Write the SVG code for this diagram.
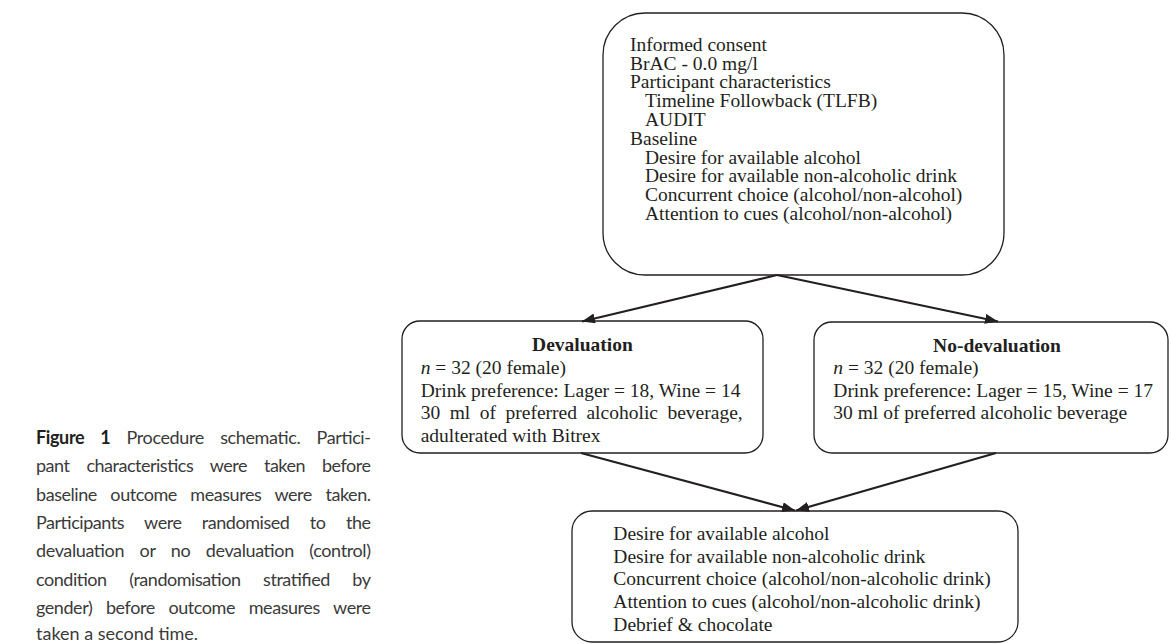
<svg xmlns="http://www.w3.org/2000/svg" width="1171" height="644" viewBox="0 0 1171 644">
<defs>
<style>
.box{fill:#fff;stroke:#231f20;stroke-width:1.3}
.t{font-family:"Liberation Serif","Times New Roman",serif;font-size:19.5px;fill:#231f20}
.b{font-weight:bold}
.c{font-family:Lato,"Open Sans",sans-serif;font-size:18px;fill:#3a3a3a}
.cb{font-weight:bold;fill:#231f20}
.edge{stroke:#231f20;stroke-width:2.2;fill:none;marker-end:url(#arr)}
</style>
<marker id="arr" markerUnits="userSpaceOnUse" markerWidth="14" markerHeight="11" refX="13" refY="5" orient="auto">
<path d="M0,0 L13,5 L0,10 z" fill="#231f20"/>
</marker>
</defs>
<rect width="1171" height="644" fill="#fff"/>

<g id="node-baseline">
<rect class="box" x="603" y="13" width="401" height="262" rx="42" ry="42"/>
<text class="t" x="630" y="50.7">Informed consent</text>
<text class="t" x="630" y="69.5">BrAC - 0.0 mg/l</text>
<text class="t" x="630" y="88.3">Participant characteristics</text>
<text class="t" x="645" y="107.1">Timeline Followback (TLFB)</text>
<text class="t" x="645" y="125.9">AUDIT</text>
<text class="t" x="630" y="144.7">Baseline</text>
<text class="t" x="645" y="163.5">Desire for available alcohol</text>
<text class="t" x="645" y="182.3">Desire for available non-alcoholic drink</text>
<text class="t" x="645" y="201.1">Concurrent choice (alcohol/non-alcohol)</text>
<text class="t" x="645" y="219.9">Attention to cues (alcohol/non-alcohol)</text>
</g>

<g id="node-devaluation">
<rect class="box" x="402" y="321" width="361" height="132" rx="18" ry="18"/>
<text class="t b" x="582.5" y="350.7" text-anchor="middle">Devaluation</text>
<text class="t" x="420.7" y="374"><tspan font-style="italic">n</tspan> = 32 (20 female)</text>
<text class="t" x="420.7" y="396.7">Drink preference: Lager = 18, Wine = 14</text>
<text class="t" x="420.7" y="419.3" textLength="322" lengthAdjust="spacing" word-spacing="4.6">30 ml of preferred alcoholic beverage,</text>
<text class="t" x="420.7" y="442">adulterated with Bitrex</text>
</g>

<g id="node-nodevaluation">
<rect class="box" x="814" y="322" width="354" height="131" rx="18" ry="18"/>
<text class="t b" x="997" y="351.7" text-anchor="middle">No-devaluation</text>
<text class="t" x="833.3" y="374"><tspan font-style="italic">n</tspan> = 32 (20 female)</text>
<text class="t" x="833.3" y="396.7">Drink preference: Lager = 15, Wine = 17</text>
<text class="t" x="833.3" y="419.3">30 ml of preferred alcoholic beverage</text>
</g>

<g id="node-outcome">
<rect class="box" x="572" y="511" width="446" height="131" rx="20" ry="20"/>
<text class="t" x="613.3" y="540">Desire for available alcohol</text>
<text class="t" x="613.3" y="562.7">Desire for available non-alcoholic drink</text>
<text class="t" x="613.3" y="585.3">Concurrent choice (alcohol/non-alcoholic drink)</text>
<text class="t" x="613.3" y="608">Attention to cues (alcohol/non-alcoholic drink)</text>
<text class="t" x="613.3" y="630.7">Debrief &amp; chocolate</text>
</g>

<g id="connectors">
<line class="edge" x1="777" y1="275" x2="582" y2="321.5"/>
<line class="edge" x1="777" y1="275" x2="998" y2="321.5"/>
<line class="edge" x1="581" y1="453" x2="795" y2="510.5"/>
<line class="edge" x1="996" y1="453" x2="796" y2="510.5"/>
</g>

<g id="caption">
<text class="c" x="36" y="444" textLength="335" lengthAdjust="spacing" word-spacing="12"><tspan class="cb">Figure 1</tspan> Procedure schematic. Partici-</text>
<text class="c" x="36" y="472.3" textLength="335" lengthAdjust="spacing" word-spacing="12.8">pant characteristics were taken before</text>
<text class="c" x="36" y="500.6" textLength="335" lengthAdjust="spacing" word-spacing="9.4">baseline outcome measures were taken.</text>
<text class="c" x="36" y="528.9" textLength="335" lengthAdjust="spacing" word-spacing="16.3">Participants were randomised to the</text>
<text class="c" x="36" y="557.2" textLength="335" lengthAdjust="spacing" word-spacing="11.3">devaluation or no devaluation (control)</text>
<text class="c" x="36" y="585.5" textLength="335" lengthAdjust="spacing" word-spacing="18.4">condition (randomisation stratified by</text>
<text class="c" x="36" y="613.8" textLength="335" lengthAdjust="spacing" word-spacing="9.5">gender) before outcome measures were</text>
<text class="c" x="36" y="640">taken a second time.</text>
</g>
</svg>
